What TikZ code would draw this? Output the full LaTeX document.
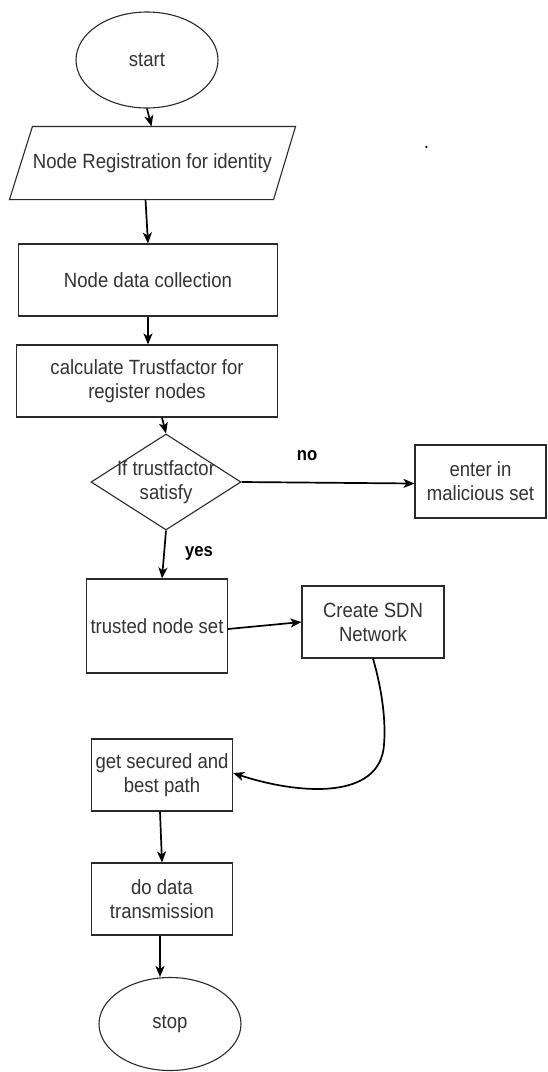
\documentclass[tikz,border=0pt]{standalone}
\usepackage{fontspec}
\setmainfont[FakeStretch=0.9]{Liberation Sans}
\usetikzlibrary{shapes.geometric,arrows.meta}
\definecolor{txt}{HTML}{333333}
\definecolor{edge}{HTML}{2A2A2A}
\tikzset{
  base/.style={draw=edge, line width=1.1pt, text=txt, inner sep=0pt, align=center,
    font=\fontsize{20.6}{24}\selectfont},
  term/.style={base, ellipse, minimum width=142pt, minimum height=96pt},
  ioarea/.style={base, draw=none, rectangle, minimum width=285pt, minimum height=72pt},
  procbox/.style={base, rectangle},
  decbox/.style={base, diamond, aspect=1.5625, minimum width=150pt, minimum height=96pt},
  flow/.style={draw=black, line width=1.7pt, -{Stealth[length=11pt,width=9pt,inset=3pt]}},
  lbl/.style={text=black, font=\fontsize{18.5}{20}\selectfont\bfseries, inner sep=0pt}
}
\begin{document}
\begin{tikzpicture}[x=1pt,y=-1pt]
\useasboundingbox[fill=white] (0,0) rectangle (548,1072);

\node[term] (start) at (147,60) {start};
\node[ioarea] (reg) at (152.5,163) {Node Registration for identity};
\draw[draw=edge, line width=1.1pt] (reg.south west) -- ([xshift=-22pt]reg.south east)
  -- (reg.north east) -- ([xshift=23pt]reg.north west) -- cycle;
\node[procbox, minimum width=259pt, minimum height=72pt] (coll) at (148,280) {Node data collection};
\node[procbox, minimum width=261pt, minimum height=72pt] (calc) at (147,381) {calculate Trustfactor for\\register nodes};
\node[decbox] (dec) at (166,482) {\makebox[0pt]{If trustfactor}\\\makebox[0pt]{satisfy}};
\node[procbox, minimum width=131pt, minimum height=73pt] (mal) at (480.5,481.5) {enter in\\malicious set};
\node[procbox, minimum width=141pt, minimum height=94pt] (trust) at (157,626) {trusted node set};
\node[procbox, minimum width=142pt, minimum height=72pt] (sdn) at (373,622) {Create SDN\\Network};
\node[procbox, minimum width=141pt, minimum height=72pt] (path) at (162,775) {get secured and\\best path};
\node[procbox, minimum width=141pt, minimum height=72pt] (trans) at (162,899) {do data\\transmission};
\node[term, minimum height=93pt] (stop) at (170,1024) {stop};

\node[lbl] (no) at (307,456) {no};
\node[lbl] (yes) at (199,553) {yes};
\node[text=black, inner sep=0pt, anchor=base, font=\fontsize{20.6}{24}\selectfont] (dot) at (426.5,148) {.};

\draw[flow] (start.south) -- ([xshift=-1pt]reg.north);
\draw[flow] ([xshift=-7pt]reg.south) -- (coll.north);
\draw[flow] (coll.south) -- ([xshift=1pt]calc.north);
\draw[flow] ([xshift=15pt]calc.south) -- (dec.north);
\draw[flow] (dec.east) -- ([yshift=-2pt]mal.west);
\draw[flow] (dec.south) -- ([xshift=5pt]trust.north);
\draw[flow] ([yshift=-3pt]trust.east) -- (sdn.west);
\draw[flow] (sdn.south) .. controls (382,690) and (386,720) .. (384,745)
  .. controls (380,800) and (300,795) .. ([yshift=2pt]path.east);
\draw[flow] ([xshift=-2pt]path.south) -- (trans.north);
\draw[flow] ([xshift=-2pt]trans.south) -- ([xshift=-10pt]stop.north);
\end{tikzpicture}
\end{document}
